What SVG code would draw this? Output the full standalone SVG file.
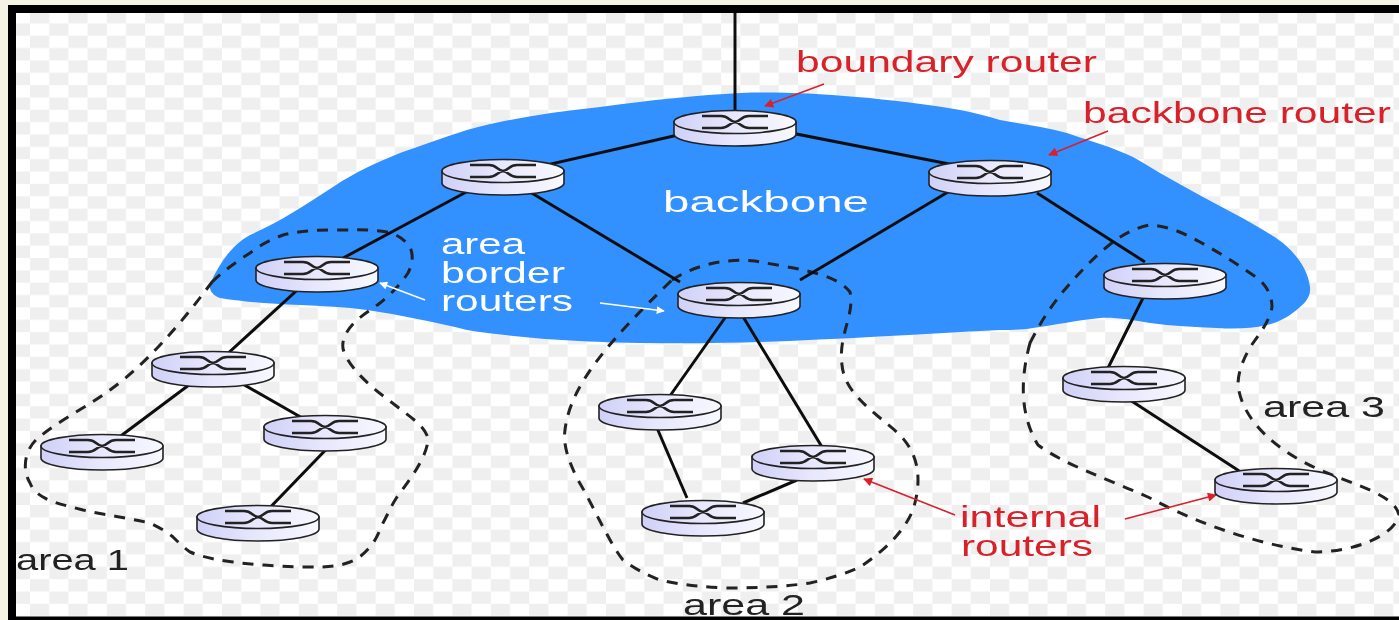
<svg xmlns="http://www.w3.org/2000/svg" width="1399" height="620" viewBox="0 0 1399 620">
<style>
.edge{stroke:#111;stroke-width:3;fill:none}
.dash{stroke:#222;stroke-width:3;fill:none;stroke-dasharray:11 9}
.lead{stroke:#d8202a;stroke-width:1.6;fill:none}
.leadw{stroke:#fff;stroke-width:1.6;fill:none}
text{font-family:"Liberation Sans",Arial,sans-serif;font-size:30px}
.r{fill:#d8202a}.w{fill:#fff}.k{fill:#222}
.sw{stroke:#222;stroke-width:2.6;fill:none}
</style>
<defs>
<pattern id="chk" x="30" y="11" width="38.4" height="24.7" patternUnits="userSpaceOnUse">
<rect width="38.4" height="24.7" fill="#fff"/>
<rect width="19.2" height="12.35" fill="#efefef"/>
<rect x="19.2" y="12.35" width="19.2" height="12.35" fill="#efefef"/>
</pattern>
<linearGradient id="side" x1="0" x2="1" y1="0" y2="0">
<stop offset="0" stop-color="#d0d0f8"/><stop offset="0.5" stop-color="#e8e8fd"/><stop offset="1" stop-color="#f8f8ff"/>
</linearGradient>
<filter id="soft" x="0" y="0" width="100%" height="100%"><feGaussianBlur stdDeviation="0.6"/></filter>
<marker id="ar" viewBox="0 0 10 10" refX="9" refY="5" markerWidth="12" markerHeight="9" orient="auto" markerUnits="userSpaceOnUse"><path d="M0 0L10 5L0 10z" fill="#d8202a"/></marker>
<marker id="aw" viewBox="0 0 10 10" refX="9" refY="5" markerWidth="12" markerHeight="8" orient="auto" markerUnits="userSpaceOnUse"><path d="M0 0L10 5L0 10z" fill="#fff"/></marker>
<symbol id="router" overflow="visible">
<path d="M-61 0V12A61 12 0 0 0 61 12V0z" fill="url(#side)" stroke="#222" stroke-width="1.6"/>
<ellipse rx="61" ry="11.5" fill="url(#side)" stroke="#222" stroke-width="1.6"/>
<path class="sw" d="M-33 -6H-14C-6 -6 -6 -1 0 0C6 1 6 6 14 6H33M-33 6H-14C-6 6 -6 1 0 0C6 -1 6 -6 14 -6H33"/>
</symbol>
</defs>
<rect width="1399" height="620" fill="#f5f3e3"/>
<rect x="8" y="5" width="1391" height="615" fill="#000"/>
<rect x="16" y="13" width="1383" height="603.5" fill="url(#chk)"/>
<g filter="url(#soft)">
<path id="backbone-region" fill="#3390ff" d="M210 284C220 262 232 245 250 235C280 222 305 205 333 187C355 172 378 162 400 153C420 146 445 137 467 130C510 118 555 112 600 107C650 100 700 95 740 93C800 91 880 97 960 110C975 113 988 116 1000 120C1022 124 1045 127 1067 133C1090 141 1112 147 1133 157C1145 164 1155 170 1167 177C1190 190 1212 202 1233 213C1250 222 1268 232 1283 243C1298 256 1308 270 1310 287C1311 296 1306 302 1300 307C1290 316 1280 322 1267 325C1250 329 1233 329 1217 328C1195 327 1172 326 1150 323C1132 320 1115 317 1100 318C1078 320 1055 325 1033 328C1022 330 1010 330 1000 330C880 336 760 345 650 343C570 342 520 338 467 330C435 322 400 315 367 310C345 307 322 306 300 305C272 304 245 302 220 298C212 295 209 290 210 284z"/>
<g id="areas">
<path class="dash" d="M212 282C222 272 236 262 250 253C260 245 272 239 283 235C300 231 316 230 333 230C352 230 370 229 387 232C397 234 405 240 410 247C414 256 412 265 408 273C400 285 390 295 380 303C372 309 364 314 357 320C346 330 340 342 344 352C352 372 375 390 395 405C410 417 424 425 428 438C428 455 412 477 397 497C391 506 388 514 383 523C379 532 376 540 370 547C364 554 358 559 350 562C335 568 318 567 300 567C278 566 255 565 233 562C217 560 202 557 190 552C183 547 178 542 173 537C166 531 158 527 150 523C128 518 105 515 83 510C68 506 53 503 43 497C36 493 32 488 30 483C22 470 24 450 38 438C60 420 90 405 110 390C145 365 180 325 212 282z"/>
<path class="dash" d="M672 280C695 265 725 258 755 261C790 268 835 272 850 292C855 315 838 335 842 365C845 395 875 412 900 435C912 448 918 462 918 480C918 490 916 500 913 510C908 522 901 531 893 540C883 550 872 559 860 567C845 574 828 579 810 583C782 587 755 588 727 588C703 587 680 585 660 580C646 575 634 568 623 560C615 550 609 538 603 527C595 512 587 495 578 480C568 460 563 445 565 430C570 385 610 340 672 280z"/>
<path class="dash" d="M1030 343C1040 323 1052 304 1067 287C1080 272 1096 255 1113 242C1125 233 1138 227 1150 225C1168 226 1184 233 1200 242C1220 253 1242 267 1260 280C1268 288 1272 297 1272 307C1270 320 1261 332 1253 343C1245 355 1238 370 1238 385C1242 420 1275 450 1320 470C1355 485 1395 495 1399 515C1395 535 1355 552 1315 552C1260 545 1200 525 1150 498C1110 480 1065 465 1038 445C1020 415 1020 380 1030 343z"/>
</g>
<g id="connectors">
<path class="edge" d="M735 13V122"/>
<path class="edge" d="M735 122L503 175M735 122L990 172M470 190L317 272M530 192L680 282M948 192L800 280M1037 193L1145 262M1153 278L1101 382M317 272L213 367M739 298L660 410M742 315L822 447M213 367L102 450M213 367L325 431M340 435L258 520M657 428L687 498M797 480L743 503M1130 400L1250 478"/>
<path class="lead" marker-end="url(#ar)" d="M824 84L765 106"/>
<path class="lead" marker-end="url(#ar)" d="M1108 131L1049 155"/>
<path class="lead" marker-end="url(#ar)" d="M955 515L864 479"/>
<path class="lead" marker-end="url(#ar)" d="M1125 519L1216 495"/>
<path class="leadw" marker-end="url(#aw)" d="M425 300L380 283"/>
<path class="leadw" marker-end="url(#aw)" d="M600 303L664 311"/>
</g>
<g id="r0"><use href="#router" x="735" y="122"/></g>
<g id="r1"><use href="#router" x="503" y="171"/></g>
<g id="r2"><use href="#router" x="990" y="172"/></g>
<g id="r3"><use href="#router" x="317" y="268"/></g>
<g id="r4"><use href="#router" x="739" y="294"/></g>
<g id="r5"><use href="#router" x="1165" y="275"/></g>
<g id="r6"><use href="#router" x="213" y="363"/></g>
<g id="r7"><use href="#router" x="102" y="446"/></g>
<g id="r8"><use href="#router" x="325" y="427"/></g>
<g id="r9"><use href="#router" x="258" y="517"/></g>
<g id="r10"><use href="#router" x="660" y="406"/></g>
<g id="r11"><use href="#router" x="813" y="457"/></g>
<g id="r12"><use href="#router" x="703" y="512"/></g>
<g id="r13"><use href="#router" x="1124" y="378"/></g>
<g id="r14"><use href="#router" x="1276" y="480"/></g>
<g id="labels">
<text class="r" x="796" y="72" textLength="301" lengthAdjust="spacingAndGlyphs">boundary router</text>
<text class="r" x="1083" y="123" textLength="308" lengthAdjust="spacingAndGlyphs">backbone router</text>
<text class="w" x="663" y="212" textLength="206" lengthAdjust="spacingAndGlyphs">backbone</text>
<text class="w" x="441" y="254" textLength="84" lengthAdjust="spacingAndGlyphs">area</text>
<text class="w" x="441" y="283" textLength="124" lengthAdjust="spacingAndGlyphs">border</text>
<text class="w" x="441" y="311" textLength="132" lengthAdjust="spacingAndGlyphs">routers</text>
<text class="k" x="1263" y="417" textLength="122" lengthAdjust="spacingAndGlyphs">area 3</text>
<text class="r" x="960" y="527" textLength="141" lengthAdjust="spacingAndGlyphs">internal</text>
<text class="r" x="961" y="556" textLength="132" lengthAdjust="spacingAndGlyphs">routers</text>
<text class="k" x="16" y="570" textLength="113" lengthAdjust="spacingAndGlyphs">area 1</text>
<text class="k" x="683" y="615" textLength="122" lengthAdjust="spacingAndGlyphs">area 2</text>
</g>
</g>
</svg>
